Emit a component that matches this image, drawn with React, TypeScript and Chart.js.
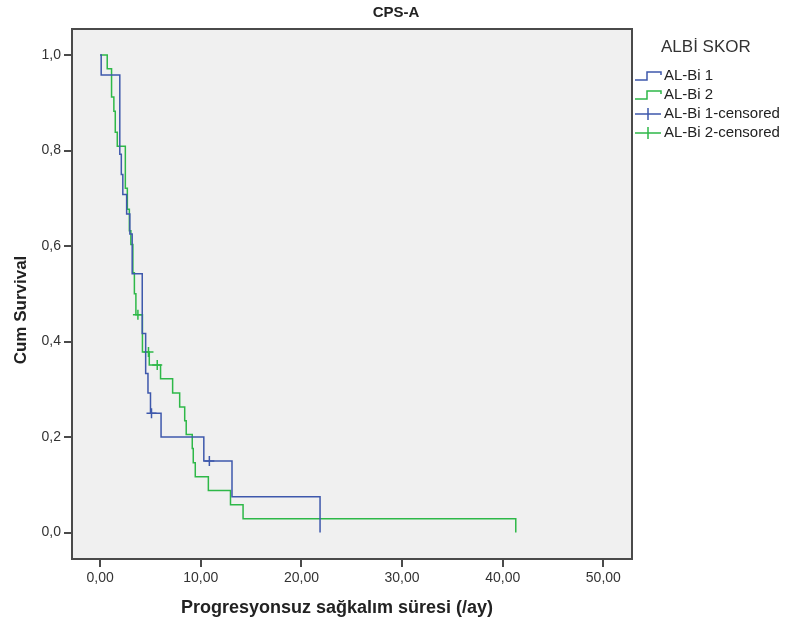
import React, { useEffect, useRef } from "react";
import { Chart, registerables } from "chart.js";

Chart.register(...registerables);

// ---- data ----
const xTickValues = [0, 10, 20, 30, 40, 50];
const yTickValues = [0, 0.2, 0.4, 0.6, 0.8, 1.0];
const legendTitle = "ALBİ SKOR";
const seriesNames = ["AL-Bi 1", "AL-Bi 2", "AL-Bi 1-censored", "AL-Bi 2-censored"];

// AL-Bi 1 Kaplan-Meier steps (time, survival after event)
const g1Times = [0, 0.1, 1.95, 2.1, 2.25, 2.63, 2.95, 3.18, 4.18, 4.52, 4.75, 5.0, 6.05, 10.3, 13.1, 21.85];
const g1Surv = [1.0, 0.958, 0.792, 0.75, 0.708, 0.667, 0.625, 0.542, 0.417, 0.333, 0.292, 0.25, 0.2, 0.15, 0.075, 0];
// AL-Bi 1 censored
const g1CensTimes = [5.1, 10.85];
const g1CensSurv = [0.25, 0.15];

// AL-Bi 2 Kaplan-Meier steps
const g2Times = [0, 0.7, 1.13, 1.36, 1.5, 1.7, 2.5, 2.7, 2.9, 3.05, 3.25, 3.4, 3.55, 4.2, 4.88, 6.0, 7.2, 7.9, 8.4, 8.55, 9.15, 9.25, 9.45, 10.75, 12.95, 14.2, 41.3];
const g2Surv = [1.0, 0.971, 0.912, 0.882, 0.838, 0.809, 0.721, 0.677, 0.632, 0.603, 0.544, 0.5, 0.456, 0.378, 0.351, 0.322, 0.292, 0.263, 0.234, 0.205, 0.176, 0.146, 0.117, 0.088, 0.058, 0.029, 0];
// AL-Bi 2 censored
const g2CensTimes = [3.75, 4.8, 5.67];
const g2CensSurv = [0.456, 0.378, 0.351];

const chartTitle = "CPS-A";
const xTitle = "Progresyonsuz sağkalım süresi (/ay)";
const yTitle = "Cum Survival";

const BLUE = "#3E58AC";
const GREEN = "#2EB848";
const FONT = "'Liberation Sans', Arial, sans-serif";

const pts = (xs: number[], ys: number[]) => xs.map((x, i) => ({ x, y: ys[i] }));

const decorPlugin = {
  id: "decor",
  beforeDraw(chart: any) {
    const { ctx, chartArea: a, width, height } = chart;
    ctx.save();
    ctx.fillStyle = "#ffffff";
    ctx.fillRect(0, 0, width, height);
    ctx.fillStyle = "#F0F0F0";
    ctx.fillRect(a.left, a.top, a.right - a.left, a.bottom - a.top);
    ctx.restore();
  },
  afterDraw(chart: any) {
    const { ctx, chartArea: a } = chart;
    ctx.save();
    // frame
    ctx.strokeStyle = "#4a4a4a";
    ctx.lineWidth = 2;
    ctx.strokeRect(a.left, a.top, a.right - a.left, a.bottom - a.top);

    // title
    ctx.fillStyle = "#222";
    ctx.textAlign = "center";
    ctx.textBaseline = "middle";
    ctx.font = `bold 15px ${FONT}`;
    ctx.fillText(chartTitle, 396, 13);

    // x title
    ctx.font = `bold 18px ${FONT}`;
    ctx.fillText(xTitle, 337, 608);

    // y title
    ctx.font = `bold 17px ${FONT}`;
    ctx.save();
    ctx.translate(21, 310);
    ctx.rotate(-Math.PI / 2);
    ctx.fillText(yTitle, 0, 0);
    ctx.restore();

    // legend
    ctx.textAlign = "left";
    ctx.fillStyle = "#333";
    ctx.font = `17px ${FONT}`;
    ctx.fillText(legendTitle, 661, 47);
    ctx.font = `15px ${FONT}`;
    const rows = [76, 95, 114, 133];
    const cols = [BLUE, GREEN, BLUE, GREEN];
    rows.forEach((y, i) => {
      ctx.strokeStyle = cols[i];
      ctx.lineWidth = 1.5;
      ctx.beginPath();
      if (i < 2) {
        ctx.moveTo(635, y + 4);
        ctx.lineTo(647, y + 4);
        ctx.lineTo(647, y - 4);
        ctx.lineTo(661, y - 4);
        ctx.lineTo(661, y - 1);
      } else {
        ctx.moveTo(635, y);
        ctx.lineTo(661, y);
        ctx.moveTo(648, y - 6);
        ctx.lineTo(648, y + 6);
      }
      ctx.stroke();
      ctx.fillStyle = "#222";
      ctx.fillText(seriesNames[i], 664, y);
    });
    ctx.restore();
  },
};

export default function App() {
  const ref = useRef<HTMLCanvasElement>(null);
  useEffect(() => {
    const canvas = ref.current!;
    const chart = new Chart(canvas, {
      type: "line",
      data: {
        datasets: [
          {
            label: seriesNames[0],
            data: pts(g1Times, g1Surv),
            borderColor: BLUE,
            borderWidth: 1.5,
            stepped: "before",
            pointRadius: 0,
            fill: false,
          },
          {
            label: seriesNames[1],
            data: pts(g2Times, g2Surv),
            borderColor: GREEN,
            borderWidth: 1.5,
            stepped: "before",
            pointRadius: 0,
            fill: false,
          },
          {
            label: seriesNames[2],
            data: pts(g1CensTimes, g1CensSurv),
            borderColor: BLUE,
            showLine: false,
            pointStyle: "cross",
            pointRadius: 5,
            pointBorderWidth: 1.5,
          },
          {
            label: seriesNames[3],
            data: pts(g2CensTimes, g2CensSurv),
            borderColor: GREEN,
            showLine: false,
            pointStyle: "cross",
            pointRadius: 5,
            pointBorderWidth: 1.5,
          },
        ] as any,
      },
      options: {
        animation: false,
        responsive: false,
        devicePixelRatio: 1,
        layout: { padding: { left: 0, top: 29, right: 153, bottom: 0 } },
        plugins: { legend: { display: false }, tooltip: { enabled: false }, title: { display: false } },
        scales: {
          x: {
            type: "linear",
            min: -2.8,
            max: 52.85,
            afterBuildTicks: (axis: any) => {
              axis.ticks = xTickValues.map((v) => ({ value: v }));
            },
            afterFit: (scale: any) => {
              scale.height = 69;
            },
            ticks: {
              callback: (v: any) => Number(v).toFixed(2).replace(".", ","),
              font: { family: FONT, size: 14 },
              color: "#333",
              padding: 3,
              maxRotation: 0,
              autoSkip: false,
            },
            grid: { drawOnChartArea: false, drawTicks: true, tickLength: 8, color: "#4a4a4a", lineWidth: 2 },
            border: { display: false },
          },
          y: {
            type: "linear",
            min: -0.0555,
            max: 1.0545,
            afterBuildTicks: (axis: any) => {
              axis.ticks = yTickValues.map((v) => ({ value: v }));
            },
            afterFit: (scale: any) => {
              scale.width = 72;
            },
            ticks: {
              callback: (v: any) => Number(v).toFixed(1).replace(".", ","),
              font: { family: FONT, size: 14 },
              color: "#333",
              padding: 3,
              autoSkip: false,
            },
            grid: { drawOnChartArea: false, drawTicks: true, tickLength: 8, color: "#4a4a4a", lineWidth: 2 },
            border: { display: false },
          },
        },
      },
      plugins: [decorPlugin],
    });
    return () => chart.destroy();
  }, []);
  return (
    <div style={{ position: "fixed", left: 0, top: 0, width: 785, height: 628, background: "#fff" }}>
      <canvas ref={ref} width={785} height={628} style={{ width: 785, height: 628, display: "block" }} />
    </div>
  );
}
